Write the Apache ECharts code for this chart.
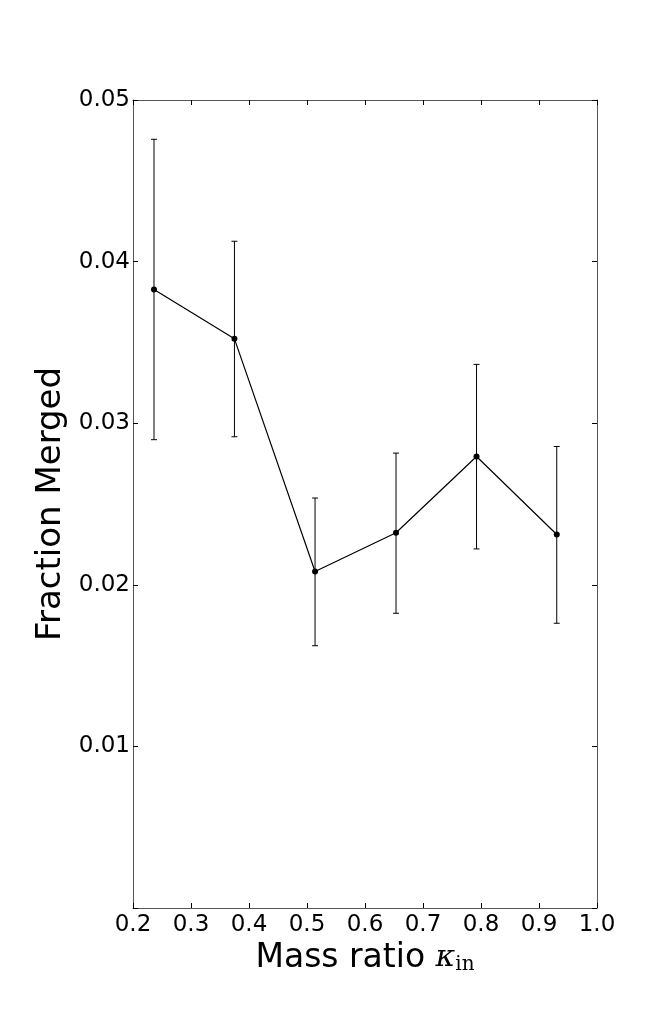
<!DOCTYPE html>
<html>
<head>
<meta charset="utf-8">
<script src="https://cdn.jsdelivr.net/npm/echarts@6/dist/echarts.min.js"></script>
<style>
html,body{margin:0;padding:0;background:#fff;}
#chart{width:664px;height:1010px;}
</style>
</head>
<body>
<div id="chart"></div>
<script>
// Data
var massRatio   = [0.2362, 0.3749, 0.5139, 0.6535, 0.7923, 0.9306];
var fracMerged  = [0.03827, 0.03522, 0.02082, 0.02322, 0.02794, 0.02311];
var errLow      = [0.02898, 0.02916, 0.01623, 0.01824, 0.02222, 0.01762];
var errHigh     = [0.04757, 0.04126, 0.02537, 0.02815, 0.03364, 0.02856];
var xTicks = [0.2, 0.3, 0.4, 0.5, 0.6, 0.7, 0.8, 0.9, 1.0];
var yTicks = [0.01, 0.02, 0.03, 0.04, 0.05];

var lineData = massRatio.map(function (x, i) { return [x, fracMerged[i]]; });
var errData = massRatio.map(function (x, i) { return [x, errLow[i], errHigh[i]]; });

var chart = echarts.init(document.getElementById('chart'));
var FONT = 'DejaVu Sans';
var axisColor = '#555';

function baseX(extra) {
  var o = {
    type: 'value', min: 0.2, max: 1.0, interval: 0.1,
    axisLine: { show: true, onZero: false, lineStyle: { color: axisColor, width: 1 } },
    axisTick: { show: true, inside: true, length: 5, lineStyle: { color: '#000', width: 1 } },
    splitLine: { show: false },
    axisLabel: { show: false }
  };
  for (var k in extra) o[k] = extra[k];
  return o;
}
function baseY(extra) {
  var o = {
    type: 'value', min: 0, max: 0.05, interval: 0.01,
    axisLine: { show: true, onZero: false, lineStyle: { color: axisColor, width: 1 } },
    axisTick: { show: true, inside: true, length: 5, lineStyle: { color: '#000', width: 1 } },
    splitLine: { show: false },
    axisLabel: { show: false }
  };
  for (var k in extra) o[k] = extra[k];
  return o;
}

chart.setOption({
  backgroundColor: '#fff',
  animation: false,
  grid: { left: 133, right: 67, top: 100, bottom: 102, containLabel: false },
  xAxis: [
    baseX({
      position: 'bottom',
      axisLabel: {
        show: true, margin: 6, color: '#000', fontFamily: FONT, fontSize: 23,
        formatter: function (v) { return (Math.round(v * 10) / 10).toFixed(1); }
      },
      name: '{a|Mass ratio }{k|κ}{s|in}',
      nameLocation: 'middle',
      nameGap: 25,
      nameTextStyle: {
        color: '#000',
        rich: {
          a: { fontFamily: FONT, fontSize: 33, color: '#000', verticalAlign: 'bottom' },
          k: { fontFamily: 'DejaVu Serif', fontStyle: 'italic', fontSize: 30, color: '#000' },
          s: { fontFamily: 'DejaVu Serif', fontSize: 20, color: '#000', padding: [14, 0, 0, 0] }
        }
      }
    }),
    baseX({ position: 'top' })
  ],
  yAxis: [
    baseY({
      position: 'left',
      axisLabel: {
        show: true, margin: 3, color: '#000', fontFamily: FONT, fontSize: 23,
        formatter: function (v) { return v < 1e-9 ? '' : v.toFixed(2); }
      },
      name: 'Fraction Merged',
      nameLocation: 'middle',
      nameGap: 61,
      nameTextStyle: { color: '#000', fontFamily: FONT, fontSize: 34 }
    }),
    baseY({ position: 'right' })
  ],
  series: [
    {
      type: 'custom',
      xAxisIndex: 0, yAxisIndex: 0,
      data: errData,
      renderItem: function (params, api) {
        var x = api.value(0);
        var lo = api.coord([x, api.value(1)]);
        var hi = api.coord([x, api.value(2)]);
        var cw = 3;
        var style = { stroke: '#000', lineWidth: 1 };
        return {
          type: 'group',
          children: [
            { type: 'line', shape: { x1: lo[0], y1: lo[1], x2: hi[0], y2: hi[1] }, style: style },
            { type: 'line', shape: { x1: lo[0] - cw, y1: lo[1], x2: lo[0] + cw, y2: lo[1] }, style: style },
            { type: 'line', shape: { x1: hi[0] - cw, y1: hi[1], x2: hi[0] + cw, y2: hi[1] }, style: style }
          ]
        };
      },
      z: 2
    },
    {
      type: 'line',
      xAxisIndex: 0, yAxisIndex: 0,
      data: lineData,
      symbol: 'circle',
      symbolSize: 6,
      lineStyle: { color: '#000', width: 1.2 },
      itemStyle: { color: '#000' },
      z: 3
    }
  ]
});
</script>
</body>
</html>
